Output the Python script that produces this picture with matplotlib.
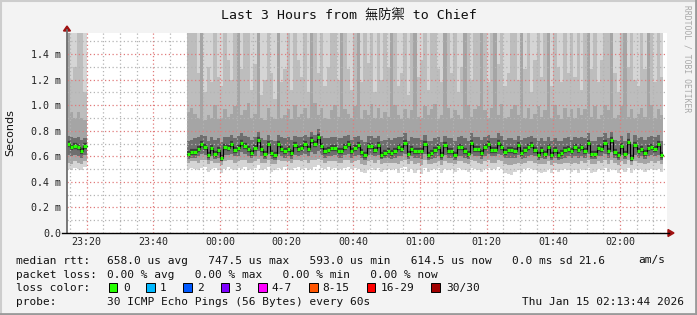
import numpy as np
import matplotlib.pyplot as plt
from matplotlib.lines import Line2D
from matplotlib.patches import Polygon, Rectangle

# Size of the output picture in pixels (dpi = 100)
W, H = 697, 315

# Time is counted in minutes from midnight; each step is one 60 s round of pings.
# Two stretches of data, with a gap between 23:20 and 23:50.
seg1_start = -46
seg2_start = -10

# Values in milliseconds (axis shows them as "m" = milli seconds)
seg1_median = [0.696, 0.675, 0.680, 0.675, 0.640, 0.680]
seg1_lo = [0.50, 0.49, 0.51, 0.50, 0.49, 0.52]
seg1_p10 = [0.55, 0.54, 0.56, 0.55, 0.54, 0.56]
seg1_p25 = [0.61, 0.60, 0.61, 0.60, 0.59, 0.61]
seg1_p75 = [0.76, 0.75, 0.74, 0.75, 0.73, 0.74]
seg1_p85 = [1.70, 0.95, 0.90, 0.95, 0.90, 0.88]
seg1_p95 = [1.70, 1.20, 1.30, 1.70, 1.70, 1.10]

seg2_median = [
    0.618, 0.634, 0.634, 0.657, 0.693, 0.670, 0.613, 0.665, 0.618, 0.647,
    0.590, 0.675, 0.665, 0.696, 0.650, 0.665, 0.706, 0.678, 0.660, 0.628,
    0.665, 0.725, 0.660, 0.618, 0.693, 0.623, 0.608, 0.700, 0.660, 0.640,
    0.660, 0.628, 0.685, 0.660, 0.665, 0.696, 0.660, 0.725, 0.696, 0.748,
    0.680, 0.640, 0.650, 0.665, 0.665, 0.640, 0.640, 0.675, 0.696, 0.640,
    0.665, 0.685, 0.634, 0.608, 0.680, 0.680, 0.650, 0.685, 0.613, 0.628,
    0.644, 0.628, 0.640, 0.670, 0.660, 0.706, 0.618, 0.660, 0.640, 0.640,
    0.640, 0.696, 0.613, 0.623, 0.650, 0.670, 0.608, 0.685, 0.644, 0.644,
    0.613, 0.670, 0.670, 0.640, 0.618, 0.706, 0.660, 0.660, 0.628, 0.670,
    0.696, 0.650, 0.650, 0.706, 0.675, 0.634, 0.650, 0.650, 0.640, 0.685,
    0.628, 0.650, 0.670, 0.685, 0.650, 0.613, 0.650, 0.618, 0.670, 0.613,
    0.650, 0.613, 0.623, 0.650, 0.660, 0.640, 0.670, 0.650, 0.670, 0.640,
    0.706, 0.618, 0.618, 0.665, 0.660, 0.706, 0.644, 0.725, 0.634, 0.608,
    0.680, 0.618, 0.710, 0.590, 0.690, 0.644, 0.660, 0.628, 0.665, 0.675,
    0.660, 0.696, 0.613]

seg2_lo = [
    0.50, 0.51, 0.50, 0.49, 0.51, 0.52, 0.48, 0.50, 0.51, 0.49,
    0.47, 0.50, 0.52, 0.50, 0.49, 0.51, 0.50, 0.52, 0.49, 0.50,
    0.51, 0.53, 0.49, 0.50, 0.52, 0.48, 0.49, 0.51, 0.50, 0.52,
    0.50, 0.49, 0.51, 0.52, 0.50, 0.51, 0.49, 0.50, 0.52, 0.53,
    0.51, 0.50, 0.52, 0.50, 0.51, 0.49, 0.50, 0.51, 0.52, 0.50,
    0.51, 0.50, 0.48, 0.47, 0.50, 0.51, 0.49, 0.51, 0.48, 0.49,
    0.50, 0.49, 0.50, 0.47, 0.51, 0.52, 0.48, 0.50, 0.47, 0.49,
    0.46, 0.51, 0.48, 0.49, 0.50, 0.51, 0.47, 0.50, 0.49, 0.50,
    0.48, 0.51, 0.50, 0.49, 0.48, 0.51, 0.50, 0.49, 0.48, 0.50,
    0.51, 0.49, 0.50, 0.52, 0.50, 0.47, 0.46, 0.45, 0.48, 0.49,
    0.48, 0.50, 0.51, 0.50, 0.49, 0.48, 0.47, 0.48, 0.50, 0.47,
    0.49, 0.48, 0.49, 0.50, 0.49, 0.48, 0.49, 0.47, 0.50, 0.49,
    0.51, 0.47, 0.48, 0.50, 0.49, 0.51, 0.48, 0.50, 0.49, 0.47,
    0.50, 0.48, 0.51, 0.47, 0.50, 0.49, 0.50, 0.48, 0.49, 0.50,
    0.49, 0.50, 0.48]

seg2_p10 = [
    0.55, 0.56, 0.56, 0.55, 0.57, 0.57, 0.54, 0.56, 0.55, 0.55,
    0.53, 0.56, 0.57, 0.57, 0.55, 0.56, 0.57, 0.57, 0.55, 0.55,
    0.56, 0.58, 0.55, 0.55, 0.57, 0.54, 0.54, 0.57, 0.56, 0.56,
    0.56, 0.55, 0.57, 0.57, 0.56, 0.57, 0.55, 0.57, 0.57, 0.58,
    0.57, 0.55, 0.56, 0.56, 0.56, 0.55, 0.55, 0.57, 0.57, 0.55,
    0.56, 0.57, 0.54, 0.53, 0.56, 0.57, 0.55, 0.57, 0.54, 0.55,
    0.55, 0.55, 0.55, 0.54, 0.56, 0.57, 0.54, 0.56, 0.54, 0.55,
    0.53, 0.57, 0.54, 0.54, 0.55, 0.56, 0.53, 0.56, 0.55, 0.55,
    0.54, 0.56, 0.56, 0.55, 0.54, 0.57, 0.56, 0.55, 0.54, 0.56,
    0.57, 0.55, 0.55, 0.57, 0.56, 0.54, 0.53, 0.53, 0.54, 0.55,
    0.54, 0.55, 0.56, 0.56, 0.55, 0.54, 0.54, 0.54, 0.56, 0.53,
    0.55, 0.54, 0.54, 0.55, 0.55, 0.54, 0.55, 0.54, 0.56, 0.55,
    0.57, 0.54, 0.54, 0.56, 0.55, 0.57, 0.54, 0.57, 0.55, 0.53,
    0.56, 0.54, 0.57, 0.53, 0.56, 0.55, 0.55, 0.54, 0.55, 0.56,
    0.55, 0.56, 0.54]

seg2_p25 = [
    0.58, 0.59, 0.59, 0.60, 0.62, 0.61, 0.57, 0.60, 0.58, 0.59,
    0.56, 0.61, 0.61, 0.62, 0.60, 0.60, 0.63, 0.62, 0.60, 0.59,
    0.60, 0.64, 0.60, 0.58, 0.62, 0.58, 0.57, 0.62, 0.60, 0.59,
    0.60, 0.58, 0.61, 0.60, 0.61, 0.62, 0.60, 0.63, 0.62, 0.64,
    0.61, 0.59, 0.60, 0.60, 0.61, 0.59, 0.59, 0.61, 0.62, 0.59,
    0.60, 0.61, 0.59, 0.57, 0.61, 0.61, 0.60, 0.61, 0.58, 0.59,
    0.59, 0.58, 0.59, 0.60, 0.60, 0.62, 0.58, 0.60, 0.59, 0.59,
    0.58, 0.62, 0.57, 0.58, 0.59, 0.60, 0.57, 0.61, 0.59, 0.59,
    0.57, 0.60, 0.60, 0.59, 0.58, 0.62, 0.60, 0.60, 0.58, 0.60,
    0.62, 0.60, 0.60, 0.62, 0.61, 0.59, 0.59, 0.59, 0.59, 0.61,
    0.58, 0.59, 0.60, 0.61, 0.60, 0.57, 0.59, 0.58, 0.60, 0.57,
    0.59, 0.57, 0.58, 0.59, 0.60, 0.59, 0.60, 0.59, 0.60, 0.59,
    0.62, 0.58, 0.58, 0.60, 0.60, 0.62, 0.59, 0.63, 0.59, 0.57,
    0.61, 0.58, 0.62, 0.56, 0.61, 0.59, 0.60, 0.58, 0.60, 0.61,
    0.60, 0.61, 0.57]

seg2_p75 = [
    0.72, 0.73, 0.74, 0.75, 0.77, 0.76, 0.72, 0.75, 0.73, 0.74,
    0.71, 0.75, 0.75, 0.77, 0.74, 0.76, 0.78, 0.76, 0.75, 0.73,
    0.75, 0.79, 0.74, 0.73, 0.77, 0.73, 0.72, 0.77, 0.75, 0.74,
    0.75, 0.73, 0.76, 0.75, 0.75, 0.77, 0.75, 0.79, 0.77, 0.81,
    0.76, 0.74, 0.74, 0.75, 0.75, 0.74, 0.74, 0.76, 0.77, 0.73,
    0.75, 0.76, 0.73, 0.71, 0.76, 0.76, 0.74, 0.76, 0.72, 0.73,
    0.74, 0.73, 0.74, 0.75, 0.75, 0.78, 0.72, 0.75, 0.74, 0.74,
    0.73, 0.77, 0.72, 0.72, 0.74, 0.75, 0.71, 0.76, 0.74, 0.74,
    0.72, 0.75, 0.76, 0.74, 0.72, 0.78, 0.75, 0.75, 0.73, 0.75,
    0.77, 0.74, 0.74, 0.78, 0.76, 0.73, 0.74, 0.74, 0.73, 0.76,
    0.73, 0.74, 0.75, 0.76, 0.74, 0.72, 0.74, 0.72, 0.75, 0.72,
    0.74, 0.72, 0.72, 0.74, 0.75, 0.73, 0.75, 0.74, 0.75, 0.74,
    0.78, 0.72, 0.72, 0.75, 0.75, 0.78, 0.74, 0.79, 0.73, 0.72,
    0.76, 0.72, 0.78, 0.70, 0.77, 0.74, 0.75, 0.73, 0.75, 0.76,
    0.75, 0.77, 0.72]

seg2_p85 = [
    0.95, 0.98, 0.93, 0.90, 1.70, 0.88, 0.92, 0.90, 1.00, 0.89,
    0.90, 0.97, 0.91, 0.93, 0.99, 1.70, 0.92, 0.96, 1.02, 0.90,
    0.93, 1.70, 0.90, 0.88, 0.98, 0.91, 0.89, 1.70, 0.90, 0.92,
    0.97, 0.89, 1.00, 0.91, 0.93, 0.98, 0.90, 1.70, 1.02, 0.92,
    0.98, 0.90, 0.89, 0.96, 1.00, 0.91, 1.70, 0.97, 0.93, 0.90,
    0.99, 1.70, 0.89, 0.96, 0.92, 1.01, 0.90, 0.98, 0.90, 0.95,
    0.91, 1.70, 1.00, 0.92, 0.89, 0.97, 0.90, 0.96, 1.70, 0.91,
    0.90, 0.99, 0.92, 0.97, 1.01, 0.89, 0.92, 1.70, 0.98, 0.90,
    0.96, 0.92, 0.89, 1.70, 1.00, 0.91, 0.97, 0.99, 1.70, 0.96,
    0.90, 0.98, 1.70, 0.92, 1.01, 0.90, 0.91, 0.97, 1.00, 0.92,
    1.70, 0.90, 0.98, 0.89, 0.93, 0.99, 0.91, 0.96, 1.70, 0.90,
    1.00, 0.92, 0.89, 0.98, 0.91, 0.97, 0.90, 0.98, 0.92, 0.97,
    1.70, 0.91, 0.99, 0.89, 0.92, 1.00, 0.96, 1.70, 0.90, 0.92,
    0.99, 1.70, 0.91, 0.97, 0.90, 0.93, 0.98, 0.91, 1.70, 1.00,
    0.90, 0.97, 0.92]

seg2_p95 = [
    1.70, 1.70, 1.70, 1.25, 1.70, 1.10, 1.30, 1.18, 1.70, 1.22,
    1.15, 1.70, 1.35, 1.20, 1.70, 1.70, 1.28, 1.70, 1.70, 1.12,
    1.32, 1.70, 1.08, 1.20, 1.70, 1.25, 1.05, 1.70, 1.18, 1.28,
    1.70, 1.12, 1.70, 1.35, 1.22, 1.70, 1.10, 1.70, 1.70, 1.25,
    1.70, 1.15, 1.30, 1.70, 1.70, 1.20, 1.70, 1.70, 1.28, 1.12,
    1.70, 1.70, 1.18, 1.70, 1.33, 1.70, 1.10, 1.70, 1.20, 1.70,
    1.30, 1.70, 1.70, 1.15, 1.25, 1.70, 1.08, 1.70, 1.70, 1.22,
    1.35, 1.70, 1.12, 1.70, 1.70, 1.28, 1.18, 1.70, 1.70, 1.25,
    1.70, 1.10, 1.30, 1.70, 1.70, 1.20, 1.70, 1.70, 1.70, 1.70,
    1.18, 1.70, 1.70, 1.32, 1.70, 1.15, 1.25, 1.70, 1.70, 1.20,
    1.70, 1.28, 1.70, 1.10, 1.35, 1.70, 1.22, 1.70, 1.70, 1.15,
    1.70, 1.30, 1.18, 1.70, 1.25, 1.70, 1.22, 1.70, 1.12, 1.70,
    1.70, 1.28, 1.70, 1.18, 1.35, 1.70, 1.70, 1.70, 1.25, 1.10,
    1.70, 1.70, 1.30, 1.70, 1.20, 1.15, 1.70, 1.28, 1.70, 1.70,
    1.18, 1.70, 1.22]

segments = [
    (seg1_start, seg1_median, seg1_lo, seg1_p10, seg1_p25, seg1_p75, seg1_p85, seg1_p95),
    (seg2_start, seg2_median, seg2_lo, seg2_p10, seg2_p25, seg2_p75, seg2_p85, seg2_p95),
]

# Axis ticks
x_major = [-40, -20, 0, 20, 40, 60, 80, 100, 120]
x_labels = ['23:20', '23:40', '00:00', '00:20', '00:40', '01:00', '01:20', '01:40', '02:00']
y_major = [0.0, 0.2, 0.4, 0.6, 0.8, 1.0, 1.2, 1.4]
y_labels = ['0.0', '0.2 m', '0.4 m', '0.6 m', '0.8 m', '1.0 m', '1.2 m', '1.4 m']

# Legend texts
loss_labels = ['0', '1', '2', '3', '4-7', '8-15', '16-29', '30/30']
loss_colors = ['#26ff00', '#00b8ff', '#0059ff', '#7e00ff', '#ff00ff', '#ff5500', '#ff0000', '#a00000']

MONO = 'DejaVu Sans Mono'

fig = plt.figure(figsize=(W / 100, H / 100), dpi=100, facecolor='#f3f3f3')


def fx(px):
    return px / W


def fy(py):
    return 1 - py / H


# plot area: 600 x 200 pixels
ax = fig.add_axes([fx(67), fy(233), 600 / W, 200 / H])
ax.set_facecolor('white')
ax.set_xlim(-45.9, 134.1)
ax.set_ylim(0, 1.5643)

TOP = 1.8

# Smoke: stacked bands, darker towards the median
for start, med, lo, p10, p25, p75, p85, p95 in segments:
    n = len(med)
    t = np.arange(start, start + n + 1)
    ext = lambda a: np.append(a, a[-1])
    ax.fill_between(t, ext(lo), TOP, step='post', color='#d5d5d5', lw=0, zorder=1)
    ax.fill_between(t, ext(p10), ext(p95), step='post', color='#bdbdbd', lw=0, zorder=1.1)
    ax.fill_between(t, ext(p10), ext(p85), step='post', color='#a5a5a5', lw=0, zorder=1.2)
    ax.fill_between(t, ext(p25), ext(p75), step='post', color='#6e6e6e', lw=0, zorder=1.3)
    # dark core right round the median (horizontal pieces only)
    ax.hlines(med, t[:-1], t[1:], colors='#3c3c3c', lw=4.5, zorder=1.4)
    # median: thin black step line with green (0 % loss) pieces
    ax.step(t, ext(med), where='post', color='black', lw=0.8, zorder=3)
    ax.hlines(med, t[:-1], t[1:], colors=loss_colors[0], lw=2.3, zorder=3.1)

# Grid lines (dotted, red for major, gray for minor)
ax.set_xticks(x_major)
ax.set_xticklabels(x_labels, family=MONO, fontsize=7.2)
ax.set_xticks(np.arange(-45, 135, 5), minor=True)
ax.set_yticks(y_major)
ax.set_yticklabels(y_labels, family=MONO, fontsize=7.2)
ax.set_yticks(np.arange(0.1, 1.56, 0.2), minor=True)
ax.grid(which='minor', color='#b4b4b4', linestyle=(0, (1, 2)), lw=0.9)
ax.grid(which='major', color='#e07a7a', linestyle=(0, (1, 2)), lw=0.9)
ax.set_axisbelow(False)
ax.tick_params(which='both', length=0)
ax.tick_params(axis='x', pad=3.2, colors='#222222')
ax.tick_params(axis='y', pad=4.0, colors='#222222')
for s in ax.spines.values():
    s.set_visible(False)

# Axis lines with arrow heads
fig.add_artist(Line2D([fx(67), fx(67)], [fy(233), fy(30)], color='#6e6e6e', lw=1.3))
fig.add_artist(Line2D([fx(62), fx(669)], [fy(233), fy(233)], color='black', lw=1.0))
fig.add_artist(Polygon([(fx(63.5), fy(31)), (fx(70.5), fy(31)), (fx(67), fy(26))],
                       closed=True, color='#a01010'))
fig.add_artist(Polygon([(fx(668), fy(229.5)), (fx(668), fy(236.5)), (fx(674), fy(233))],
                       closed=True, color='#a01010'))

# Titles
fig.text(0.5, fy(19.5), 'Last 3 Hours from 無防禦 to Chief', ha='center', va='baseline',
         family=[MONO, 'Noto Sans CJK TC'], fontsize=9.5, color='#111111')
fig.text(fx(10.5), fy(132.5), 'Seconds', rotation=90, ha='center', va='center',
         family='DejaVu Sans', fontsize=8, color='#111111')
fig.text(fx(687.5), fy(59), 'RRDTOOL / TOBI OETIKER', rotation=-90, ha='center', va='center',
         family=MONO, fontsize=5.8, color='#a8a8a8')

# Legend lines
def legend_text(x, y, s, **kw):
    fig.text(fx(x), fy(y), s, family=MONO, fontsize=8, va='baseline', color='#111111', **kw)


legend_text(16, 263.5, 'median rtt:')
legend_text(107, 263.5, '658.0 us avg   747.5 us max   593.0 us min   614.5 us now   0.0 ms sd')
legend_text(578, 263.5, '21.6')
legend_text(638, 263.5, 'am/s')
legend_text(16, 277.5, 'packet loss:')
legend_text(107, 277.5, '0.00 % avg   0.00 % max   0.00 % min   0.00 % now')
legend_text(16, 291.3, 'loss color:')
box_x = [108.5, 146, 183, 220.5, 258, 309, 367, 431]
lab_x = [123.2, 160.2, 197.3, 234.5, 271.5, 322.5, 381.2, 446.4]
for bx, lx, lab, col in zip(box_x, lab_x, loss_labels, loss_colors):
    fig.add_artist(Rectangle((fx(bx), fy(291.7)), 8.5 / W, 9 / H, facecolor=col,
                             edgecolor='black', lw=0.7))
    legend_text(lx, 291.3, lab)
legend_text(16, 305, 'probe:')
legend_text(107, 305, '30 ICMP Echo Pings (56 Bytes) every 60s')
legend_text(684, 305, 'Thu Jan 15 02:13:44 2026', ha='right')

# Frame around the whole picture
fig.add_artist(Line2D([0, 1], [fy(0.8), fy(0.8)], color='#cdcdcd', lw=1.5))
fig.add_artist(Line2D([fx(0.8), fx(0.8)], [0, 1], color='#cdcdcd', lw=1.5))
fig.add_artist(Line2D([0, 1], [fy(313.8), fy(313.8)], color='#9a9a9a', lw=2))
fig.add_artist(Line2D([fx(695.8), fx(695.8)], [0, 1], color='#9a9a9a', lw=2))

plt.savefig('out.png', dpi=100, facecolor=fig.get_facecolor())
